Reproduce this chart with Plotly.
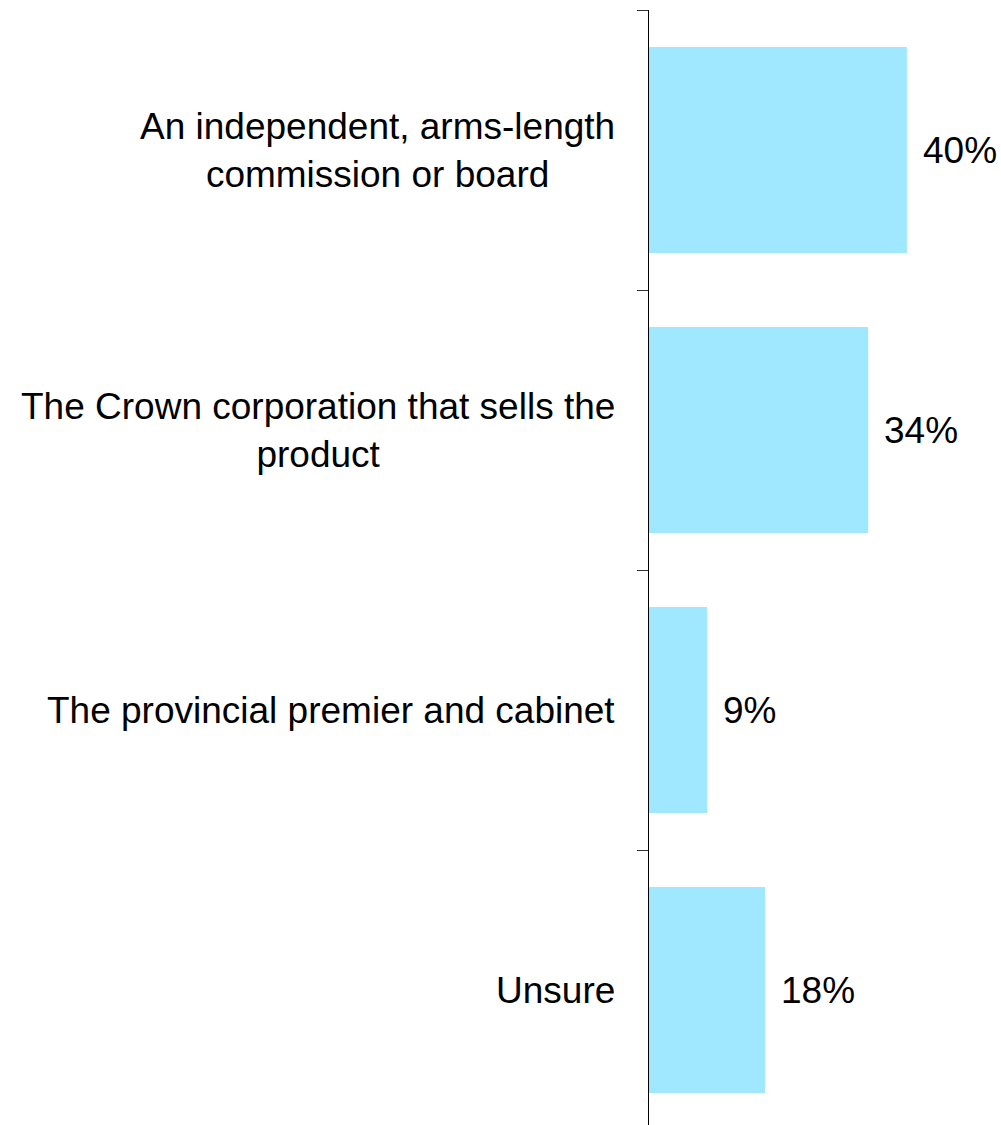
import plotly.graph_objects as go

# Survey answers (top to bottom) and share of respondents, in percent
categories = [
    "An independent, arms-length<br>commission or board",
    "The Crown corporation that sells the<br>product",
    "The provincial premier and cabinet",
    "Unsure",
]
shares = [40, 34, 9, 18]
value_labels = [f"{v}%" for v in shares]

BAR_COLOR = "#9FE8FF"
FONT = "Liberation Sans, Arial, sans-serif"
TEXT_FONT = dict(family=FONT, size=37, color="#000000")

fig = go.Figure(
    go.Bar(
        x=shares,
        y=categories,
        orientation="h",
        marker=dict(color=BAR_COLOR, line=dict(width=0)),
        hoverinfo="skip",
    )
)

# Category names left of the axis, lines centred within each label block
for cat in categories:
    fig.add_annotation(
        xref="paper", x=0, y=cat, text=cat, showarrow=False,
        xanchor="right", yanchor="middle", align="center", xshift=-32,
        font=TEXT_FONT,
    )

# Percent labels just past the end of each bar
for cat, val, lab in zip(categories, shares, value_labels):
    fig.add_annotation(
        x=val, y=cat, text=lab, showarrow=False,
        xanchor="left", yanchor="middle", xshift=14,
        font=TEXT_FONT,
    )

fig.update_layout(
    width=1001,
    height=1125,
    margin=dict(l=649, r=0, t=10, b=0, pad=0),
    paper_bgcolor="white",
    plot_bgcolor="white",
    bargap=0.264,
    showlegend=False,
    font=TEXT_FONT,
)

fig.update_xaxes(
    range=[0, 54.6],
    visible=False,
    showgrid=False,
    zeroline=False,
)

fig.update_yaxes(
    type="category",
    categoryorder="array",
    categoryarray=categories,
    range=[3.482, -0.5],
    showline=True,
    linecolor="#000000",
    linewidth=1,
    ticks="outside",
    ticklen=11,
    tickwidth=1,
    tickcolor="#333333",
    tickson="boundaries",
    showticklabels=False,
    showgrid=False,
    zeroline=False,
)

fig.write_html("out.html")
